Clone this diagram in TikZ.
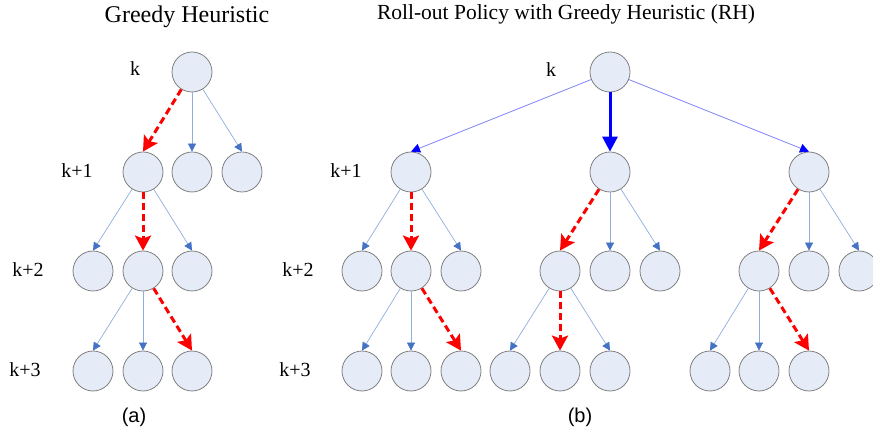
\documentclass[tikz,border=0pt]{standalone}
\usepackage{fontspec}
\setmainfont{Liberation Serif}
\newfontfamily\sansf{Liberation Sans}
\usetikzlibrary{arrows.meta}
\definecolor{nodefill}{HTML}{E6ECF7}
\definecolor{nodedraw}{HTML}{808080}
\definecolor{thinline}{HTML}{8EAEDD}
\definecolor{thinhead}{HTML}{4472C4}
\definecolor{topline}{HTML}{8080FF}
\tikzset{
  st/.style={circle, minimum size=40pt, inner sep=0pt, draw=nodedraw, fill=nodefill, line width=0.8pt},
  lbl/.style={font=\fontsize{20}{24}\selectfont, anchor=base, inner sep=0pt},
  ttl/.style={anchor=base, inner sep=0pt},
  captxt/.style={font=\sansf\fontsize{20}{24}\selectfont, anchor=base, inner sep=0pt},
  thinarr/.style={draw=thinline, line width=0.7pt, -{Triangle[length=8pt,width=8pt,color=thinhead]}},
  topthin/.style={draw=topline, line width=0.8pt, -{Triangle[length=9pt,width=9pt,color=blue]}},
  thickarr/.style={draw=blue, line width=3pt, -{Triangle[length=15pt,width=15pt]}},
  greedy/.style={draw=red, line width=3pt, dash pattern=on 7pt off 4pt, -{Stealth[length=15pt,width=16pt,inset=3pt]}}
}
\begin{document}
\begin{tikzpicture}[x=1pt,y=-1pt]
\useasboundingbox (0,0) rectangle (873,435);
% titles
\node[ttl, font=\fontsize{24}{28}\selectfont] (ta) at (187,22.5) {Greedy Heuristic};
\node[ttl, font=\fontsize{21.5}{26}\selectfont] (tb) at (566,19.5) {Roll-out Policy with Greedy Heuristic (RH)};
% level labels
\node[lbl] (la0) at (135,76) {k};
\node[lbl] (la1) at (77,178) {k+1};
\node[lbl] (la2) at (28,277) {k+2};
\node[lbl] (la3) at (25,377) {k+3};
\node[lbl] (lb0) at (551,77) {k};
\node[lbl] (lb1) at (346,178) {k+1};
\node[lbl] (lb2) at (298,277) {k+2};
\node[lbl] (lb3) at (295,377) {k+3};
\node[captxt] (ca) at (134,423) {(a)};
\node[captxt] (cb) at (580,423) {(b)};
% tree (a)
\node[st] (a0) at (192,72) {};
\node[st] (a1l) at (143,172) {};
\node[st] (a1m) at (192,172) {};
\node[st] (a1r) at (242,172) {};
\node[st] (a2l) at (93,271) {};
\node[st] (a2m) at (143,271) {};
\node[st] (a2r) at (192,271) {};
\node[st] (a3l) at (93,371) {};
\node[st] (a3m) at (143,371) {};
\node[st] (a3r) at (192,371) {};
\draw[greedy] (a0) -- (a1l.north);
\draw[thinarr] (a0) -- (a1m.north);
\draw[thinarr] (a0) -- (a1r.north);
\draw[thinarr] (a1l) -- (a2l.north);
\draw[greedy] (a1l) -- (a2m.north);
\draw[thinarr] (a1l) -- (a2r.north);
\draw[thinarr] (a2m) -- (a3l.north);
\draw[thinarr] (a2m) -- (a3m.north);
\draw[greedy] (a2m) -- (a3r.north);
% tree (b)
\node[st] (b0) at (610,72) {};
\node[st] (b1l) at (411,172) {};
\node[st] (b1m) at (610,172) {};
\node[st] (b1r) at (809,172) {};
\node[st] (b2a) at (362,271) {};
\node[st] (b2b) at (411,271) {};
\node[st] (b2c) at (461,271) {};
\node[st] (b2d) at (560,271) {};
\node[st] (b2e) at (610,271) {};
\node[st] (b2f) at (660,271) {};
\node[st] (b2g) at (759,271) {};
\node[st] (b2h) at (809,271) {};
\node[st] (b2i) at (859,271) {};
\node[st] (b3a) at (362,371) {};
\node[st] (b3b) at (411,371) {};
\node[st] (b3c) at (461,371) {};
\node[st] (b3d) at (510,371) {};
\node[st] (b3e) at (560,371) {};
\node[st] (b3f) at (610,371) {};
\node[st] (b3g) at (710,371) {};
\node[st] (b3h) at (759,371) {};
\node[st] (b3i) at (809,371) {};
\draw[topthin] (b0) -- (b1l.north);
\draw[thickarr] (b0) -- (b1m.north);
\draw[topthin] (b0) -- (b1r.north);
\draw[thinarr] (b1l) -- (b2a.north);
\draw[greedy] (b1l) -- (b2b.north);
\draw[thinarr] (b1l) -- (b2c.north);
\draw[greedy] (b1m) -- (b2d.north);
\draw[thinarr] (b1m) -- (b2e.north);
\draw[thinarr] (b1m) -- (b2f.north);
\draw[greedy] (b1r) -- (b2g.north);
\draw[thinarr] (b1r) -- (b2h.north);
\draw[thinarr] (b1r) -- (b2i.north);
\draw[thinarr] (b2b) -- (b3a.north);
\draw[thinarr] (b2b) -- (b3b.north);
\draw[greedy] (b2b) -- (b3c.north);
\draw[thinarr] (b2d) -- (b3d.north);
\draw[greedy] (b2d) -- (b3e.north);
\draw[thinarr] (b2d) -- (b3f.north);
\draw[thinarr] (b2g) -- (b3g.north);
\draw[thinarr] (b2g) -- (b3h.north);
\draw[greedy] (b2g) -- (b3i.north);
\end{tikzpicture}
\end{document}
